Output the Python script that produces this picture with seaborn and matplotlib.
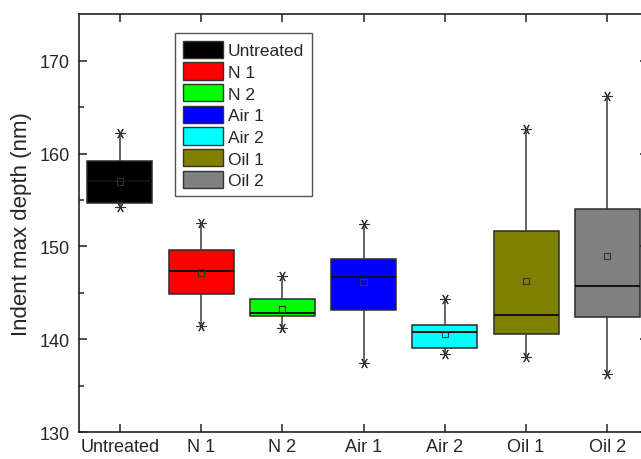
import matplotlib.pyplot as plt
import matplotlib.patches as mpatches
import pandas as pd
import seaborn as sns

groups = ['Untreated', 'N 1', 'N 2', 'Air 1', 'Air 2', 'Oil 1', 'Oil 2']
colors = ['#000000', '#ff0000', '#00ff00', '#0000ff', '#00ffff', '#808000', '#808080']

# whisker ends (min/max), box edges, median, mean
mins = [154.3, 141.4, 141.2, 137.5, 138.4, 138.1, 136.3]
q1s = [154.7, 144.9, 142.5, 143.2, 139.1, 140.6, 142.4]
medians = [157.0, 147.4, 142.8, 146.7, 140.8, 142.6, 145.7]
q3s = [159.2, 149.6, 144.3, 148.7, 141.6, 151.7, 154.0]
maxs = [162.2, 152.5, 146.8, 152.4, 144.3, 162.6, 166.2]
means = [157.0, 147.2, 143.3, 146.2, 140.6, 146.3, 149.0]

sns.set_style('ticks')
plt.rcParams['font.family'] = ['Liberation Sans', 'DejaVu Sans']

# five summary points per group -> quartiles come out exactly as read
rows = []
for g, a, b, c, d, e in zip(groups, mins, q1s, medians, q3s, maxs):
    for v in (a, b, c, d, e):
        rows.append({'group': g, 'depth': v})
df = pd.DataFrame(rows)
ends = pd.DataFrame({'group': groups * 2, 'depth': mins + maxs})
avg = pd.DataFrame({'group': groups, 'depth': means})

fig = plt.figure(figsize=(6.41, 4.60), dpi=100)
ax = fig.add_axes([0.1237, 0.058, 0.887, 0.909])

sns.boxplot(data=df, x='group', y='depth', hue='group', order=groups,
            palette=colors, saturation=1, legend=False, width=0.8, whis=(0, 100),
            showcaps=False, showfliers=False, linecolor='#2a2a2a',
            linewidth=1.1, medianprops={'color': '#111111', 'linewidth': 1.4},
            whiskerprops={'color': '#3a3a3a', 'linewidth': 1.1}, ax=ax)
sns.stripplot(data=ends, x='group', y='depth', order=groups, jitter=False,
              marker=(6, 2, 30), size=7, color='#333333', edgecolor='#333333',
              linewidth=0.8, ax=ax)
sns.stripplot(data=avg, x='group', y='depth', order=groups, jitter=False,
              marker='s', size=4.5, color='#333333', facecolor='none',
              edgecolor='#333333', linewidth=0.8, ax=ax)

ax.set_xlim(-0.5, 6.5)
ax.set_ylim(130, 175)
ax.set_yticks([130, 140, 150, 160, 170])
ax.set_yticks([135, 145, 155, 165], minor=True)
ax.set_xlabel('')
ax.set_ylabel('Indent max depth (nm)', fontsize=16, labelpad=5)
ax.tick_params(axis='both', which='major', direction='in', length=6, width=1.1,
               labelsize=13, top=True, right=True, color='#222222')
ax.tick_params(axis='y', which='minor', direction='in', length=3.5, width=1.1,
               left=True, right=True, color='#222222')
ax.tick_params(axis='y', which='major', pad=7)
ax.tick_params(axis='x', which='major', pad=4)
for s in ax.spines.values():
    s.set_visible(True)
    s.set_linewidth(1.2)
    s.set_color('#222222')

handles = [mpatches.Patch(facecolor=c, edgecolor='#333333', linewidth=1.0, label=g)
           for g, c in zip(groups, colors)]
leg = ax.legend(handles=handles, loc='upper left', bbox_to_anchor=(175 / 641, 1 - 34 / 460),
                bbox_transform=fig.transFigure, borderaxespad=0, fontsize=12.5,
                handlelength=2.3, handleheight=1.15, handletextpad=0.3,
                labelspacing=0.24, borderpad=0.45, fancybox=False, framealpha=1)
leg.get_frame().set_edgecolor('#555555')
leg.get_frame().set_linewidth(1.0)

fig.savefig('out.png', dpi=100)
